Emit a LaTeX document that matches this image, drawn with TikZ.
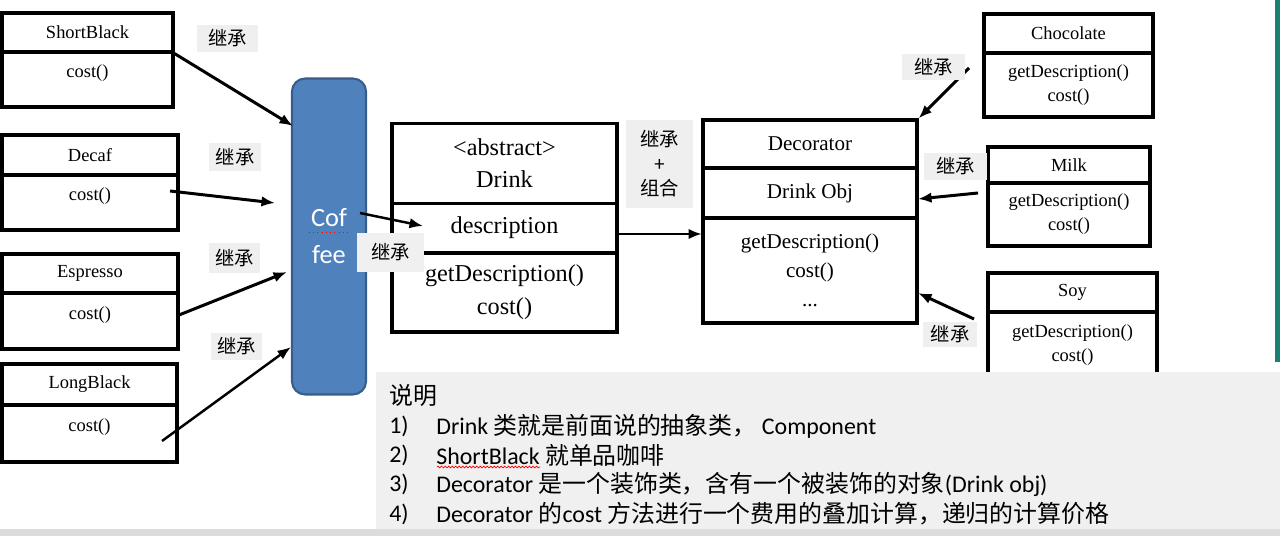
\documentclass[tikz,border=0pt]{standalone}
\usepackage{fontspec}
\setmainfont{Liberation Serif}
\newfontfamily\cjk{Noto Sans CJK SC}
\newfontfamily\calibri{Carlito}
\usetikzlibrary{arrows.meta,decorations.pathmorphing}
\definecolor{coffeeblue}{HTML}{4F81BD}
\definecolor{coffeeline}{HTML}{385D8A}
\definecolor{labelgray}{HTML}{EFEFEF}
\definecolor{notegray}{HTML}{F0F0F0}
\definecolor{bandgray}{HTML}{DCDCDC}
\definecolor{stripteal}{HTML}{1C8070}
\newcommand{\zh}[1]{{\cjk #1}}
\tikzset{
  cls/.style={draw, line width=1.8pt, inner sep=0pt, align=center},
  small/.style={cls, font=\fontsize{10.5}{13.6}\selectfont},
  costbox/.style={small, text depth=0.33cm},
  big/.style={cls, font=\fontsize{13.8}{18.2}\selectfont},
  mid/.style={cls, font=\fontsize{12}{16.4}\selectfont},
  lbl/.style={fill=labelgray, inner sep=0pt, align=center, font=\cjk\fontsize{11}{13.9}\selectfont},
  arr/.style={-{Latex[length=0.27cm,width=0.21cm]}, line width=1.7pt},
  notetxt/.style={anchor=west, inner sep=0pt, font=\calibri\fontsize{13.6}{16}\selectfont}
}

\begin{document}
\begin{tikzpicture}[x=0.02cm, y=-0.02cm]
\useasboundingbox (0,0) rectangle (1280,536);
\fill[white] (0,0) rectangle (1280,536);
\fill[stripteal] (1275,0) rectangle (1280,362);
% concrete coffees
\node[small, minimum width=3.42cm, minimum height=0.78cm] (SB) at (87.5,32.5) {ShortBlack};
\node[costbox, minimum width=3.42cm, minimum height=1.10cm] (SBc) at (87.5,79.5) {cost()};
\node[small, minimum width=3.52cm, minimum height=0.80cm] (DC) at (90,155) {Decaf};
\node[costbox, minimum width=3.52cm, minimum height=1.10cm] (DCc) at (90,202.5) {cost()};
\node[small, minimum width=3.52cm, minimum height=0.78cm] (ES) at (90,273.5) {Espresso};
\node[costbox, minimum width=3.52cm, minimum height=1.12cm] (ESc) at (90,321) {cost()};
\node[small, minimum width=3.50cm, minimum height=0.82cm] (LB) at (89.5,384.5) {LongBlack};
\node[costbox, minimum width=3.50cm, minimum height=1.14cm] (LBc) at (89.5,433.5) {cost()};
% coffee
\node[draw=coffeeline, fill=coffeeblue, line width=1.2pt, rounded corners=0.26cm, text=white, align=center,
      font=\calibri\fontsize{15}{21}\selectfont, minimum width=1.48cm, minimum height=6.32cm] (COFFEE) at (329,236.5) {Cof\\fee};
\draw[red, dotted] (309,232) -- (347,232);
% drink
\node[big, minimum width=4.50cm, minimum height=1.60cm] (DR) at (504.5,163.5) {\textless abstract\textgreater\\Drink};
\node[big, minimum width=4.50cm, minimum height=0.98cm] (DRd) at (504.5,228) {description};
\node[big, minimum width=4.50cm, minimum height=1.58cm, font=\fontsize{13.8}{18.7}\selectfont] (DRm) at (504.5,292.5) {getDescription()\\cost()};
% decorator
\node[mid, minimum width=4.28cm, minimum height=0.96cm] (DEC) at (810,144) {Decorator};
\node[mid, minimum width=4.28cm, minimum height=1.00cm] (DECo) at (810,193) {Drink Obj};
\node[mid, minimum width=4.28cm, minimum height=2.10cm] (DECm) at (810,270.5) {getDescription()\\cost()\\...};
% condiments
\node[small, minimum width=3.38cm, minimum height=0.78cm] (CH) at (1068.5,33.5) {Chocolate};
\node[small, minimum width=3.38cm, minimum height=1.28cm] (CHm) at (1068.5,85) {getDescription()\\cost()};
\node[small, minimum width=3.24cm, minimum height=0.72cm] (MK) at (1069,165) {Milk};
\node[small, minimum width=3.24cm, minimum height=1.26cm] (MKm) at (1069,214.5) {getDescription()\\cost()};
\node[small, minimum width=3.38cm, minimum height=0.78cm] (SOY) at (1072.5,292.5) {Soy};
\node[small, minimum width=3.38cm, minimum height=1.32cm] (SOYm) at (1072.5,345) {getDescription()\\cost()};
% arrow ends
\coordinate (cfA) at (293,126);
\coordinate (dcS) at (170,191);
\coordinate (cfB) at (275,203);
\coordinate (esS) at (179,315);
\coordinate (cfC) at (287,272);
\coordinate (lbS) at (162,441);
\coordinate (cfD) at (291,347);
\coordinate (cfS) at (360,213);
\coordinate (drE) at (423,226);
\coordinate (drS) at (617,234);
\coordinate (decE) at (702,234);
\coordinate (chS) at (969,68);
\coordinate (mkS) at (978,193);
\coordinate (mkE) at (918,199);
\coordinate (soyS) at (974,319);
\coordinate (soyE) at (918,293);
\draw[arr] (SB.south east) -- (cfA);
\draw[arr] (dcS) -- (cfB);
\draw[arr] (esS) -- (cfC);
\draw[arr, line width=1.4pt] (lbS) -- (cfD);
\draw[arr, line width=1.4pt] (cfS) -- (drE);
\draw[arr] (drS) -- (decE);
\draw[arr] (chS) -- (DEC.north east);
\draw[arr] (mkS) -- (mkE);
\draw[arr] (soyS) -- (soyE);
% labels
\node[lbl, minimum width=1.22cm, minimum height=0.54cm] (L1) at (227.5,38.5) {继承};
\node[lbl, minimum width=1.04cm, minimum height=0.56cm] (L2) at (235,157) {继承};
\node[lbl, minimum width=1.02cm, minimum height=0.60cm] (L3) at (234.5,258) {继承};
\node[lbl, minimum width=1.02cm, minimum height=0.54cm] (L4) at (236.5,346.5) {继承};
\node[lbl, fill=notegray, minimum width=1.34cm, minimum height=0.78cm] (L5) at (390.5,252.5) {继承};
\node[lbl, minimum width=1.34cm, minimum height=1.76cm] (L6) at (659.5,164) {继承\\+\\组合};
\node[lbl, minimum width=1.26cm, minimum height=0.52cm] (L7) at (933.5,67) {继承};
\node[lbl, minimum width=1.26cm, minimum height=0.54cm] (L8) at (955.5,166.5) {继承};
\node[lbl, minimum width=1.08cm, minimum height=0.50cm] (L9) at (950,334.5) {继承};
% note
\node[fill=notegray, inner sep=0pt, minimum width=18.08cm, minimum height=3.18cm] (NOTE) at (828,451.5) {};
\fill[bandgray] (0,529) rectangle (1280,536);
\node[notetxt] (N0) at (389,396) {\zh{说明}};
\node[notetxt] (N1) at (389,426) {1)};
\node[notetxt] (T1) at (436,426) {Drink \zh{类就是前面说的抽象类，}\ Component};
\node[notetxt] (N2) at (389,455) {2)};
\node[notetxt] (T2) at (436,455) {ShortBlack \zh{就单品咖啡}};
\node[notetxt] (N3) at (389,484) {3)};
\node[notetxt] (T3) at (436,484) {Decorator \zh{是一个装饰类，含有一个被装饰的对象}(Drink obj)};
\node[notetxt] (N4) at (389,514) {4)};
\node[notetxt] (T4) at (436,514) {Decorator \zh{的}cost \zh{方法进行一个费用的叠加计算，递归的计算价格}};
\draw[red, line width=0.4pt, decorate, decoration={snake, amplitude=0.5pt, segment length=2pt}] (437,467) -- (540,467);
\end{tikzpicture}
\end{document}
